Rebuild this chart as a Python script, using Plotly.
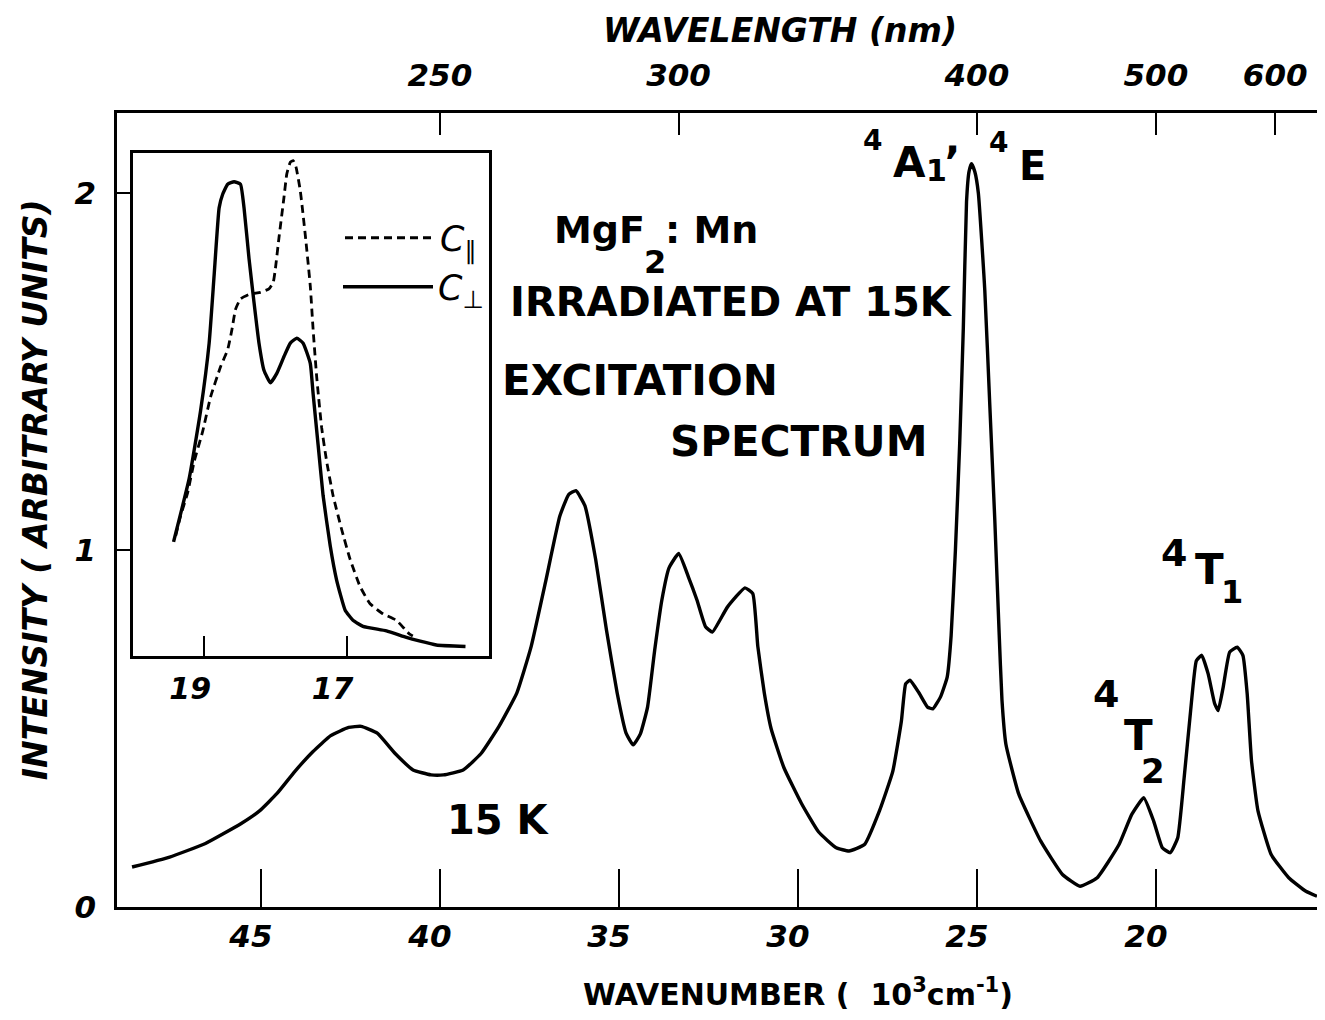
import plotly.graph_objects as go

# ---------------- data ----------------
# main excitation spectrum at 15 K (wavenumber in 10^3 cm^-1, intensity arb. units)
wavenumber = [48.6, 47.55, 46.55, 45.55, 45.03, 44.55, 44.05, 43.55, 43.05, 42.55,
              42.20, 41.75, 41.25, 40.75, 40.25, 39.90, 39.35, 38.85, 38.35, 37.85,
              37.45, 37.05, 36.65, 36.40, 36.20, 35.95, 35.65, 35.35, 35.05, 34.80,
              34.60, 34.40, 34.20, 34.00, 33.80, 33.60, 33.33, 33.06, 32.82, 32.58,
              32.39, 31.97, 31.48, 31.26, 31.12, 30.94, 30.75, 30.39, 29.90, 29.42,
              28.93, 28.57, 28.14, 27.72, 27.35, 27.11, 26.99, 26.87, 26.62, 26.38,
              26.23, 26.01, 25.83, 25.72, 25.60, 25.48, 25.38, 25.29, 25.22, 25.15,
              25.06, 24.96, 24.78, 24.64, 24.50, 24.38, 24.30, 24.19, 23.83, 23.22,
              22.61, 22.12, 21.64, 21.03, 20.67, 20.34, 20.06, 19.82, 19.60, 19.39,
              19.21, 19.03, 18.87, 18.72, 18.54, 18.36, 18.26, 18.12, 17.94, 17.73,
              17.57, 17.45, 17.33, 17.15, 16.78, 16.29, 15.81, 15.50]
intensity = [0.112, 0.140, 0.178, 0.234, 0.270, 0.318, 0.380, 0.435, 0.480, 0.503,
             0.506, 0.487, 0.430, 0.384, 0.370, 0.370, 0.384, 0.430, 0.506, 0.600,
             0.730, 0.910, 1.095, 1.156, 1.166, 1.124, 0.974, 0.777, 0.600, 0.487,
             0.454, 0.485, 0.560, 0.720, 0.860, 0.950, 0.990, 0.925, 0.860, 0.785,
             0.770, 0.840, 0.894, 0.878, 0.730, 0.600, 0.500, 0.390, 0.290, 0.210,
             0.166, 0.157, 0.175, 0.270, 0.380, 0.520, 0.625, 0.635, 0.600, 0.560,
             0.555, 0.590, 0.644, 0.760, 1.000, 1.300, 1.620, 1.975, 2.060, 2.082,
             2.060, 2.000, 1.728, 1.406, 1.084, 0.770, 0.580, 0.456, 0.316, 0.185,
             0.091, 0.058, 0.082, 0.175, 0.260, 0.306, 0.240, 0.166, 0.152, 0.194,
             0.363, 0.550, 0.690, 0.705, 0.653, 0.570, 0.550, 0.616, 0.714, 0.728,
             0.705, 0.597, 0.410, 0.270, 0.147, 0.082, 0.044, 0.030]

# inset: C-perpendicular (solid)
perp_wn = [19.43, 19.21, 19.05, 18.93, 18.86, 18.79, 18.74, 18.67, 18.58, 18.49,
           18.44, 18.37, 18.30, 18.23, 18.16, 18.07, 17.98, 17.88, 17.79, 17.70,
           17.61, 17.51, 17.47, 17.40, 17.33, 17.23, 17.14, 17.02, 16.91, 16.77,
           16.44, 16.16, 15.98, 15.74, 15.33]
perp_int = [2.27, 3.53, 4.88, 6.22, 7.57, 8.91, 9.18, 9.38, 9.43, 9.38,
            8.91, 7.90, 7.03, 6.22, 5.68, 5.43, 5.62, 5.95, 6.22, 6.32,
            6.22, 5.82, 5.21, 4.20, 3.19, 2.19, 1.51, 0.91, 0.71, 0.59,
            0.50, 0.37, 0.30, 0.22, 0.19]

# inset: C-parallel (dashed)
par_wn = [19.40, 19.33, 19.23, 19.14, 19.02, 18.91, 18.77, 18.67, 18.61, 18.56,
          18.49, 18.35, 18.21, 18.09, 18.03, 18.00, 17.95, 17.88, 17.84, 17.79,
          17.75, 17.71, 17.65, 17.58, 17.51, 17.47, 17.42, 17.35, 17.28, 17.19,
          17.07, 16.95, 16.81, 16.67, 16.49, 16.30, 16.12, 16.07]
par_int = [2.39, 2.79, 3.26, 3.87, 4.47, 5.15, 5.75, 6.09, 6.49, 6.89,
           7.10, 7.20, 7.23, 7.30, 7.43, 7.70, 8.31, 9.11, 9.58, 9.82,
           9.85, 9.72, 9.25, 8.37, 7.36, 6.49, 5.55, 4.54, 3.87, 3.19,
           2.52, 1.92, 1.38, 1.04, 0.84, 0.71, 0.44, 0.40]

main_xticks = [45, 40, 35, 30, 25, 20]
main_yticks = [0, 1, 2]
wavelength_nm = [250, 300, 400, 500, 600]
inset_xticks = [19, 17]

# ---------------- style ----------------
FONT = "DejaVu Sans"
BLACK = "black"
XRANGE = [49.02, 15.50]
YRANGE = [0, 2.224]


def tfont(size, italic=True, bold=True):
    return dict(family=FONT, size=size, color=BLACK,
                style="italic" if italic else "normal",
                weight="bold" if bold else "normal")


fig = go.Figure()
fig.add_trace(go.Scatter(x=wavenumber, y=intensity, mode="lines",
                         line=dict(color=BLACK, width=3.4, shape="spline", smoothing=0.4),
                         xaxis="x", yaxis="y", showlegend=False, hoverinfo="skip"))
fig.add_trace(go.Scatter(x=[], y=[], xaxis="x2", yaxis="y", showlegend=False,
                         hoverinfo="skip"))
fig.add_trace(go.Scatter(x=par_wn, y=par_int, mode="lines",
                         line=dict(color=BLACK, width=2.8, dash="8px,5px",
                                   shape="spline", smoothing=0.4),
                         xaxis="x3", yaxis="y3", name="<i>C</i><sub>∥</sub>",
                         legend="legend", hoverinfo="skip"))
fig.add_trace(go.Scatter(x=perp_wn, y=perp_int, mode="lines",
                         line=dict(color=BLACK, width=3.4, shape="spline", smoothing=0.4),
                         xaxis="x3", yaxis="y3", name="<i>C</i><sub>⊥</sub>",
                         legend="legend2", hoverinfo="skip"))

axis_common = dict(showgrid=False, zeroline=False, showline=True, linecolor=BLACK,
                   linewidth=2.5, tickcolor=BLACK, tickwidth=2, ticks="inside")

# the page body has an 8px margin: figure is sized to fit the 1325x1020 window
fig.update_layout(
    width=1309, height=1004,
    margin=dict(l=109, r=0, t=105, b=105, pad=0),
    paper_bgcolor="white", plot_bgcolor="white",
    xaxis=dict(domain=[0, 1], range=XRANGE, tickmode="array", tickvals=main_xticks,
               ticklen=38, tickfont=tfont(31), ticklabelshift=10,
               ticklabelstandoff=0, anchor="y", **axis_common),
    yaxis=dict(domain=[0, 1], range=YRANGE, tickmode="array", tickvals=main_yticks,
               ticklen=18, tickfont=tfont(31), ticklabelstandoff=12, anchor="x",
               **axis_common),
    xaxis2=dict(overlaying="x", side="top", anchor="y", range=XRANGE,
                tickmode="array", tickvals=[1e4 / w for w in wavelength_nm],
                ticktext=[str(w) for w in wavelength_nm], ticklen=22,
                tickfont=tfont(31), ticklabelstandoff=12, **axis_common),
    xaxis3=dict(domain=[0.0133, 0.31], anchor="y3", range=[20, 15],
                tickmode="array", tickvals=inset_xticks, ticklen=20,
                tickfont=tfont(30), ticklabelstandoff=4, mirror=True,
                ticklabelshift=14, **axis_common),
    yaxis3=dict(domain=[0.3161, 0.9496], anchor="x3", range=[0, 10],
                showticklabels=False, showgrid=False, zeroline=False, showline=True,
                mirror=True, linecolor=BLACK, linewidth=2.5, ticks=""),
    legend=dict(x=(340 - 117) / 1200, y=(907 - 238) / 794, xanchor="left",
                yanchor="middle", itemwidth=90, bgcolor="rgba(0,0,0,0)",
                borderwidth=0, font=dict(family=FONT, size=35, color=BLACK)),
    legend2=dict(x=(338 - 117) / 1200, y=(907 - 287) / 794, xanchor="left",
                 yanchor="middle", itemwidth=90, bgcolor="rgba(0,0,0,0)",
                 borderwidth=0, font=dict(family=FONT, size=35, color=BLACK)),
)

ann = []


def txt(x, y, s, size, xanchor="center", italic=False, xref="x", yref="y", angle=0):
    ann.append(dict(x=x, y=y, xref=xref, yref=yref, text=s, showarrow=False,
                    xanchor=xanchor, yanchor="middle", textangle=angle,
                    font=tfont(size, italic=italic, bold=True)))


# axis titles
txt(0.5525, 1.1045, "WAVELENGTH (nm)", 33, italic=True, xref="paper", yref="paper")
txt(0.5675, -0.1083, "WAVENUMBER (  10<sup>3</sup>cm<sup>-1</sup>)", 30,
    xref="paper", yref="paper")
txt(-0.0683, 0.525, "INTENSITY ( ARBITRARY UNITS)", 33, italic=True,
    xref="paper", yref="paper", angle=-90)

# in-plot labels
txt(34.22, 1.896, "MgF", 38, xanchor="right")
txt(33.99, 1.807, "2", 32)
txt(33.78, 1.896, ": Mn", 38, xanchor="left")
txt(38.10, 1.695, "IRRADIATED AT 15K", 40, xanchor="left")
txt(38.32, 1.476, "EXCITATION", 42, xanchor="left")
txt(33.63, 1.303, "SPECTRUM", 42, xanchor="left")
txt(39.86, 0.244, "15 K", 40, xanchor="left")

# 4A1, 4E
txt(27.91, 2.146, "4", 28)
txt(26.87, 2.084, "A", 42)
txt(26.13, 2.064, "1", 30)
txt(25.67, 2.150, ",", 40)
txt(24.39, 2.140, "4", 28)
txt(23.44, 2.076, "E", 40)
# 4T1
txt(19.50, 0.992, "4", 38)
txt(18.49, 0.944, "T", 42)
txt(17.88, 0.882, "1", 32)
# 4T2
txt(21.40, 0.597, "4", 38)
txt(20.50, 0.479, "T", 42)
txt(20.07, 0.380, "2", 34)

fig.update_layout(annotations=ann)
fig.write_html("out.html")
